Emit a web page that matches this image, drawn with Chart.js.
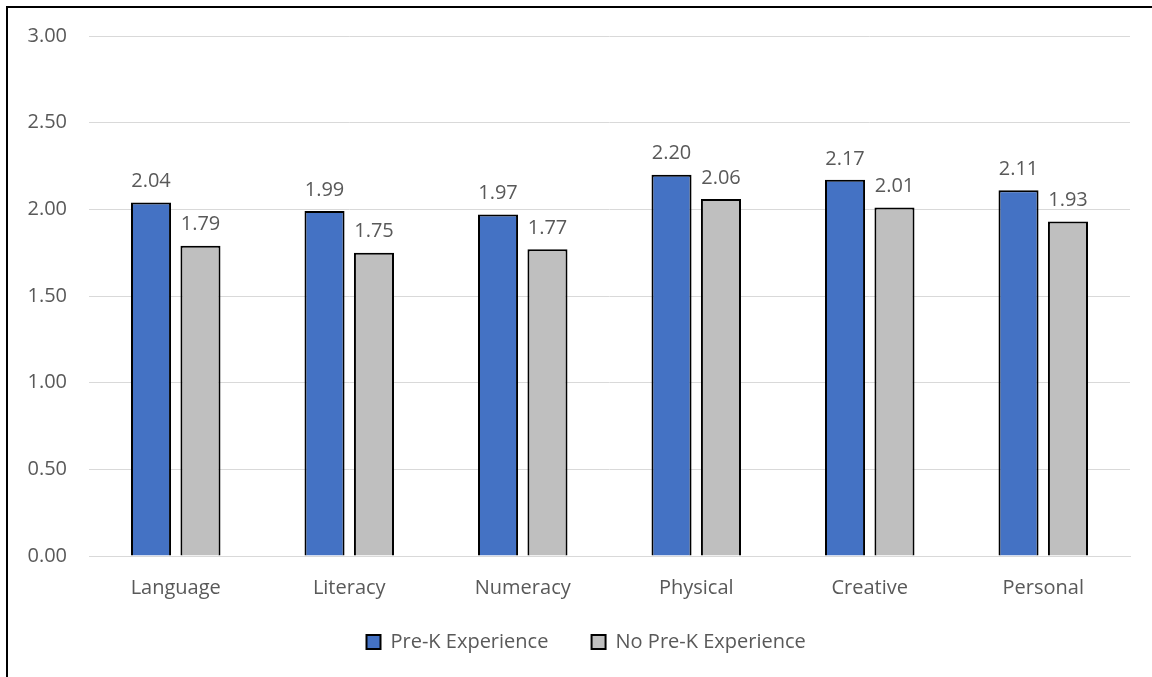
<!DOCTYPE html>
<html lang="en">
<head>
<meta charset="utf-8">
<title>Pre-K Experience</title>
<script src="https://cdn.jsdelivr.net/npm/chart.js@4.4.0/dist/chart.umd.min.js"></script>
<style>
  html, body { margin: 0; padding: 0; background: #fff; overflow: hidden; }
  #frame { position: absolute; left: 6px; top: 6px; width: 1160px; height: 690px; border: 2px solid #000; box-sizing: border-box; }
  #wrap { position: absolute; left: 0; top: 0; width: 1152px; height: 677px; }
</style>
</head>
<body>
<div id="frame"></div>
<div id="wrap"><canvas id="chart" width="1152" height="677"></canvas></div>
<script>
// domain scores by group
const categories = ['Language', 'Literacy', 'Numeracy', 'Physical', 'Creative', 'Personal'];
const preK = [2.04, 1.99, 1.97, 2.20, 2.17, 2.11];
const noPreK = [1.79, 1.75, 1.77, 2.06, 2.01, 1.93];
const seriesNames = ['Pre-K Experience', 'No Pre-K Experience'];

const FONT = "'Open Sans', sans-serif";
const TEXT = '#595959';
const SIZE = 20;

// writes each bar's value above it
const valueLabels = {
  id: 'valueLabels',
  afterDatasetsDraw(chart) {
    const ctx = chart.ctx;
    ctx.save();
    ctx.font = SIZE + 'px ' + FONT;
    ctx.fillStyle = TEXT;
    ctx.textAlign = 'center';
    ctx.textBaseline = 'bottom';
    chart.data.datasets.forEach((ds, i) => {
      chart.getDatasetMeta(i).data.forEach((bar, j) => {
        ctx.fillText(ds.data[j].toFixed(2), bar.x, bar.y - 11);
      });
    });
    ctx.restore();
  }
};

// trailing spaces widen the gap between entries and nudge the row
const legendPad = ['      ', '         '];

new Chart(document.getElementById('chart'), {
  type: 'bar',
  data: {
    labels: categories,
    datasets: [
      { label: seriesNames[0], data: preK, backgroundColor: '#4472C4', borderColor: '#000', borderWidth: 2 },
      { label: seriesNames[1], data: noPreK, backgroundColor: '#BFBFBF', borderColor: '#000', borderWidth: 2 }
    ]
  },
  options: {
    responsive: false,
    animation: false,
    devicePixelRatio: 1,
    categoryPercentage: 0.57,
    barPercentage: 0.81,
    layout: { padding: { left: 0, right: 22, top: 36, bottom: 15 } },
    plugins: {
      tooltip: { enabled: false },
      legend: {
        position: 'bottom',
        fullSize: false,
        labels: {
          boxWidth: 14, boxHeight: 14, padding: 12,
          color: TEXT, font: { family: FONT, size: SIZE },
          generateLabels: chart => Chart.defaults.plugins.legend.labels.generateLabels(chart)
            .map((it, i) => Object.assign(it, { text: it.text + legendPad[i] }))
        }
      }
    },
    scales: {
      x: {
        grid: { display: false, drawTicks: false },
        border: { color: '#d9d9d9', width: 1 },
        ticks: { color: TEXT, font: { family: FONT, size: SIZE }, padding: 20 }
      },
      y: {
        min: 0, max: 3,
        grid: { color: '#d9d9d9', lineWidth: 1, drawTicks: false },
        border: { display: false },
        ticks: {
          stepSize: 0.5, padding: 22, color: TEXT,
          font: { family: FONT, size: SIZE },
          callback: v => v.toFixed(2)
        },
        afterFit: s => { s.width = 89; }
      }
    }
  },
  plugins: [valueLabels]
});
</script>
</body>
</html>
